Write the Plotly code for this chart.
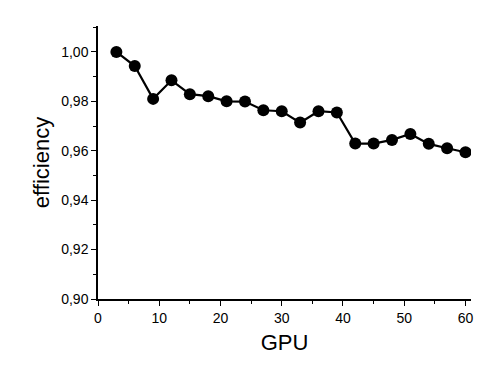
import plotly.graph_objects as go

# GPU count vs parallel efficiency
gpus = [3, 6, 9, 12, 15, 18, 21, 24, 27, 30, 33, 36, 39, 42, 45, 48, 51, 54, 57, 60]
efficiency = [1.000, 0.9943, 0.9810, 0.9885, 0.9829, 0.9821, 0.9800, 0.9799, 0.9764, 0.9760,
              0.9714, 0.9760, 0.9755, 0.9629, 0.9629, 0.9644, 0.9668, 0.9628, 0.9610, 0.9594]

fig = go.Figure(
    data=[
        go.Scatter(
            x=gpus,
            y=efficiency,
            mode="lines+markers",
            line=dict(color="black", width=2.2),
            marker=dict(color="black", size=12),
        )
    ]
)

axis_common = dict(
    showline=True,
    linecolor="black",
    linewidth=1.5,
    ticks="outside",
    ticklen=5,
    tickcolor="black",
    showgrid=False,
    zeroline=False,
    automargin=False,
    tickfont=dict(size=14, color="black"),
)

fig.update_xaxes(
    range=[0, 60.9],
    dtick=10,
    minor=dict(ticks="outside", dtick=5, ticklen=3, tickcolor="black"),
    title=dict(text="GPU", font=dict(size=22, color="black"), standoff=10),
    **axis_common,
)
fig.update_yaxes(
    range=[0.9, 1.0105],
    dtick=0.02,
    tickformat=".2f",
    minor=dict(ticks="outside", dtick=0.01, ticklen=3, tickcolor="black"),
    title=dict(text="efficiency", font=dict(size=22, color="black"), standoff=6),
    **axis_common,
)

# page body has an 8px margin, so the figure is a bit smaller than the window
fig.update_layout(
    width=493,
    height=380,
    margin=dict(l=90, r=30, t=18, b=89),
    plot_bgcolor="white",
    paper_bgcolor="white",
    separators=",.",
    showlegend=False,
    font=dict(family="Liberation Sans, Arial, sans-serif"),
)

fig.write_html("out.html")
